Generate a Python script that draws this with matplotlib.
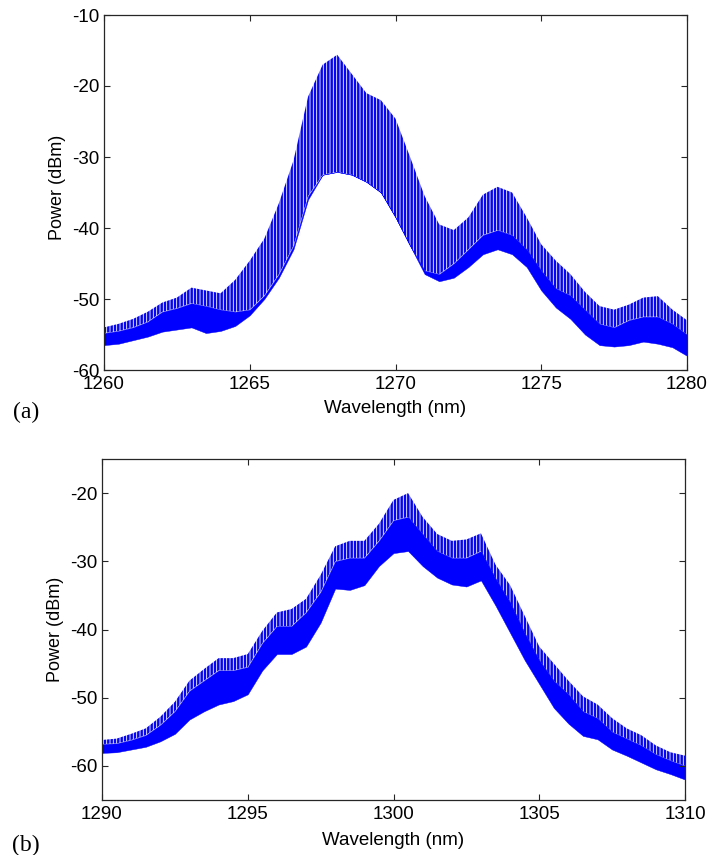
import matplotlib
matplotlib.use("Agg")
import matplotlib.pyplot as plt
import numpy as np

# ---------------- data ----------------
# Panel (a): wavelength grid (nm) and envelopes (dBm)
wl_a = [1260.0, 1260.5, 1261.0, 1261.5, 1262.0, 1262.5, 1263.0, 1263.5, 1264.0, 1264.5,
        1265.0, 1265.5, 1266.0, 1266.5, 1267.0, 1267.5, 1268.0, 1268.5, 1269.0, 1269.5,
        1270.0, 1270.5, 1271.0, 1271.5, 1272.0, 1272.5, 1273.0, 1273.5, 1274.0, 1274.5,
        1275.0, 1275.5, 1276.0, 1276.5, 1277.0, 1277.5, 1278.0, 1278.5, 1279.0, 1279.5,
        1280.0]
peak_a = [-54.0, -53.5, -52.8, -51.8, -50.5, -49.8, -48.4, -48.8, -49.2, -47.3,
          -44.6, -41.5, -36.5, -30.5, -21.5, -17.0, -15.6, -18.3, -21.0, -22.0,
          -24.6, -30.0, -35.5, -39.5, -40.3, -38.5, -35.3, -34.2, -35.0, -38.5,
          -42.3, -44.6, -46.5, -49.0, -51.0, -51.5, -50.8, -49.8, -49.6, -51.5,
          -53.0]
band_a = [-54.8, -54.5, -54.0, -53.2, -51.8, -51.3, -50.6, -51.0, -51.5, -51.8,
          -51.5, -49.5, -46.5, -42.5, -35.5, -32.5, -32.1, -32.5, -33.5, -35.0,
          -38.5, -42.5, -46.0, -46.5, -45.0, -43.0, -41.0, -40.3, -41.0, -43.0,
          -46.0, -48.5, -49.5, -51.5, -53.5, -54.0, -53.0, -52.5, -52.5, -53.5,
          -55.0]
floor_a = [-56.5, -56.3, -55.8, -55.3, -54.6, -54.3, -54.0, -54.8, -54.5, -53.8,
           -52.3, -50.0, -47.0, -43.0, -36.0, -32.5, -32.1, -32.5, -33.5, -35.0,
           -38.5, -42.5, -46.5, -47.5, -47.0, -45.5, -43.7, -43.0, -43.7, -45.5,
           -48.8, -51.2, -52.8, -55.0, -56.5, -56.7, -56.5, -56.0, -56.3, -56.8,
           -58.0]

# Panel (b)
wl_b = [1290.0, 1290.5, 1291.0, 1291.5, 1292.0, 1292.5, 1293.0, 1293.5, 1294.0, 1294.5,
        1295.0, 1295.5, 1296.0, 1296.5, 1297.0, 1297.5, 1298.0, 1298.5, 1299.0, 1299.5,
        1300.0, 1300.5, 1301.0, 1301.5, 1302.0, 1302.5, 1303.0, 1303.5, 1304.0, 1304.5,
        1305.0, 1305.5, 1306.0, 1306.5, 1307.0, 1307.5, 1308.0, 1308.5, 1309.0, 1309.5,
        1310.0]
peak_b = [-56.2, -56.0, -55.3, -54.5, -52.8, -50.6, -47.5, -45.8, -44.2, -44.2,
          -43.6, -40.2, -37.5, -37.0, -35.5, -32.0, -27.8, -27.0, -27.0, -24.5,
          -21.0, -20.0, -23.5, -26.0, -27.0, -26.8, -25.9, -30.5, -33.5, -38.0,
          -42.5, -45.0, -47.5, -49.8, -51.0, -53.0, -54.5, -55.5, -57.0, -58.0,
          -58.5]
band_b = [-56.8, -56.7, -56.2, -55.5, -54.0, -52.0, -49.0, -47.5, -46.0, -46.0,
          -45.5, -42.0, -39.5, -39.5, -37.5, -34.5, -30.0, -29.5, -29.5, -27.0,
          -24.0, -23.5, -26.0, -28.5, -29.5, -29.5, -28.5, -32.5, -36.0, -40.5,
          -44.5, -47.5, -49.5, -52.0, -53.0, -55.0, -56.0, -57.0, -58.3, -59.2,
          -60.0]
floor_b = [-58.1, -58.0, -57.6, -57.2, -56.4, -55.3, -53.2, -52.0, -51.0, -50.5,
           -49.5, -46.0, -43.6, -43.6, -42.5, -39.0, -34.0, -34.2, -33.5, -30.7,
           -28.8, -28.5, -30.7, -32.4, -33.4, -33.7, -32.8, -36.5, -40.5, -44.5,
           -48.0, -51.5, -53.8, -55.6, -56.1, -57.6, -58.5, -59.5, -60.5, -61.2,
           -62.0]

xticks_a = [1260, 1265, 1270, 1275, 1280]
yticks_a = [-60, -50, -40, -30, -20, -10]
xticks_b = [1290, 1295, 1300, 1305, 1310]
yticks_b = [-60, -50, -40, -30, -20]

# ---------------- style ----------------
plt.rcParams['font.family'] = ['Liberation Sans', 'DejaVu Sans']
plt.rcParams['axes.unicode_minus'] = False
plt.rcParams['hatch.linewidth'] = 1.8
BLUE = '#0000ff'
AX_COL = '#262626'

fig = plt.figure(figsize=(7.1, 8.55), dpi=100)
W, H = 710.0, 855.0


def make_axes(l, r, t, b):
    return fig.add_axes([l / W, 1 - b / H, (r - l) / W, (b - t) / H])


def draw(ax, wl, floor, band, peak, xlim, ylim, xt, yt):
    ax.fill_between(wl, floor, band, facecolor=BLUE, edgecolor=BLUE, linewidth=0.3)
    ax.fill_between(wl, band, peak, facecolor='none', edgecolor='#0505ee',
                    hatch='|||||', linewidth=0)
    ax.set_xlim(*xlim)
    ax.set_ylim(*ylim)
    ax.set_xticks(xt)
    ax.set_yticks(yt)
    ax.tick_params(direction='in', top=True, right=True, length=4.5, width=0.8,
                   color=AX_COL, labelsize=13.5, labelcolor='black')
    ax.tick_params(axis='y', pad=3)
    ax.tick_params(axis='x', pad=4)
    for s in ax.spines.values():
        s.set_color(AX_COL)
        s.set_linewidth(0.9)
    ax.set_xlabel('Wavelength (nm)', fontsize=13.5)
    ax.set_ylabel('Power (dBm)', fontsize=13)
    ax.xaxis.label.set_va('center')
    ax.yaxis.label.set_va('center')


# panel (a)
ax1 = make_axes(104, 687, 15, 370)
draw(ax1, wl_a, floor_a, band_a, peak_a, (1260, 1280), (-60, -10), xticks_a, yticks_a)
ax1.xaxis.set_label_coords(0.5, -(408 - 370) / 355.0)
ax1.yaxis.set_label_coords((57 - 104) / 583.0, 1 - (187 - 15) / 355.0)

# panel (b)
ax2 = make_axes(102, 685, 459, 800)
draw(ax2, wl_b, floor_b, band_b, peak_b, (1290, 1310), (-65, -15), xticks_b, yticks_b)
ax2.xaxis.set_label_coords(0.5, -(840 - 800) / 341.0)
ax2.yaxis.set_label_coords((55 - 102) / 583.0, 0.5)

fig.text(26 / W, 1 - 412 / H, '(a)', family=['Liberation Serif', 'DejaVu Serif'],
         fontsize=17, ha='center', va='center')
fig.text(26 / W, 1 - 845 / H, '(b)', family=['Liberation Serif', 'DejaVu Serif'],
         fontsize=17, ha='center', va='center')

fig.savefig('out.png', dpi=100, facecolor='white')
